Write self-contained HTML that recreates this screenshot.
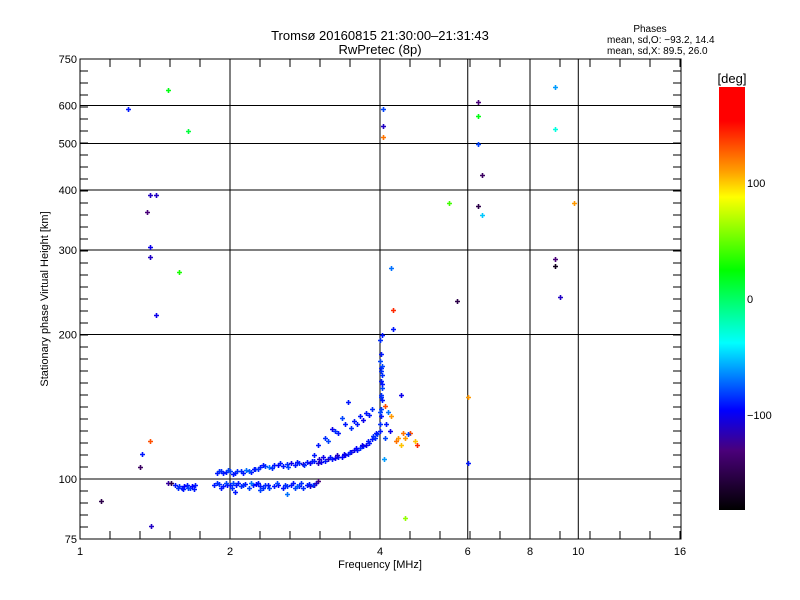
<!DOCTYPE html>
<html><head><meta charset="utf-8"><style>
body{margin:0;background:#fff}
svg{display:block;font-family:"Liberation Sans","DejaVu Sans",sans-serif}
</style></head><body>
<svg id="chart" width="800" height="600" viewBox="0 0 800 600">
<defs><linearGradient id="cb" x1="0" y1="1" x2="0" y2="0">
<stop offset="0" stop-color="#000"/><stop offset="0.14" stop-color="#4a007a"/><stop offset="0.236" stop-color="#0000ff"/><stop offset="0.395" stop-color="#00ffff"/><stop offset="0.567" stop-color="#00ff00"/><stop offset="0.74" stop-color="#ffff00"/><stop offset="0.80" stop-color="#ffa000"/><stop offset="0.92" stop-color="#ff0000"/><stop offset="1" stop-color="#ff0000"/>
</linearGradient></defs>
<rect width="800" height="600" fill="#fff"/>
<text x="380" y="40" font-size="13" text-anchor="middle">Tromsø 20160815 21:30:00–21:31:43</text>
<text x="380" y="54" font-size="13" text-anchor="middle">RwPretec (8p)</text>
<text x="650" y="32" font-size="10" text-anchor="middle">Phases</text>
<text x="607" y="43" font-size="10">mean, sd,O: −93.2, 14.4</text>
<text x="607" y="54" font-size="10">mean, sd,X:  89.5, 26.0</text>
<g id="grid"></g>
<g id="points"></g>
<rect x="80" y="59" width="601" height="480" fill="none" stroke="#000" stroke-width="1"/>
<g id="axes"></g>
<text x="380" y="568" font-size="11" text-anchor="middle">Frequency [MHz]</text>
<text transform="translate(48,299) rotate(-90)" font-size="11" text-anchor="middle">Stationary phase Virtual Height [km]</text>
<rect x="719" y="87" width="26" height="423" fill="url(#cb)"/>
<text x="732" y="83" font-size="13" text-anchor="middle">[deg]</text>
<g id="cbticks"></g>
</svg>
<script>
const xTicks=[1,2,4,6,8,10,16];
const yTicks=[75,100,200,300,400,500,600,750];
const yGrid=[100,200,300,400,500,600];
const xGrid=[2,4,6,8,10];
const cbLabels=[100,0,-100];
const freq=[1.1,1.25,1.5,1.65,1.38,1.42,1.36,1.38,1.38,1.58,1.42,1.38,1.33,1.32,1.39,4.05,4.05,4.05,4.2,4.25,4.25,4.4,4.5,5.5,5.7,6.0,6.0,6.3,6.3,6.3,6.4,6.3,6.4,9.0,9.0,9.8,9.0,9.0,9.2,
1.55,1.58,1.6,1.62,1.64,1.66,1.68,1.7,1.5,1.52,1.86,1.9,1.94,1.97,2.0,2.03,2.06,2.1,2.14,2.18,2.22,2.26,2.3,2.35,2.4,2.45,2.5,2.55,2.6,2.65,2.7,2.75,2.8,2.85,2.9,2.95,3.0,2.05,2.3,2.6,
1.57,1.61,1.65,1.69,1.88,1.92,1.96,2.02,2.08,2.12,2.2,2.28,2.33,2.38,2.48,2.58,2.68,2.72,2.78,2.88,2.93,2.98,
1.88,1.92,1.96,2.0,2.05,2.1,2.15,2.2,2.25,2.3,2.35,2.4,2.45,2.5,2.55,2.6,2.65,2.7,2.75,2.8,2.85,2.9,2.95,3.0,3.05,3.1,3.15,3.2,3.25,3.3,3.35,3.4,3.45,3.5,3.55,3.6,3.65,3.7,3.75,3.8,3.85,3.9,3.95,4.0,
1.9,1.94,1.98,2.03,2.07,2.12,2.18,2.23,2.28,2.33,2.43,2.52,2.62,2.72,2.82,2.92,3.02,3.08,3.18,3.28,3.38,3.48,3.58,3.68,3.78,3.88,3.93,
4.0,4.02,4.01,4.03,4.02,4.04,4.02,4.03,4.01,4.0,4.02,4.0,4.03,4.0,4.01,4.03,4.02,4.04,
3.0,3.1,3.2,3.3,3.4,3.5,3.6,3.7,3.75,3.85,3.35,3.65,2.95,3.15,3.45,3.25,3.55,3.8,
4.1,4.12,4.15,4.18,4.1,4.2,4.3,4.35,4.4,4.45,4.5,4.6,4.7,4.75,4.55,4.08];
const height=[90,590,645,530,390,390,360,305,290,270,220,120,113,106,80,590,545,515,275,225,205,150,83,375,235,148,108,610,570,500,430,370,355,655,535,375,288,278,240,
97,96.5,96,96.5,97,96,96.5,97,98,98,97,97.5,96.5,97,97,98,97,96.5,97.5,96,97,97.5,96.5,97,96,96.5,97,96,96.5,97,96,96.5,96,97,96.5,97,99,94,95,93,
96,95.5,96,95.5,98,96,98,96,98,97,98,98,96,97,98,97,98,96.5,98,97.5,97,98,
103,104,103.5,104,103,104,104.5,103.5,105,106,106.5,106,107,107,106.5,107.5,108,107,108,107.5,108.5,108,109,108,108.5,109,110,110,110.5,111,111,112,113,114,115,115,116,117,118,119,121,122,124,126,
104,103,104.5,102.5,104,103,104,105,105,107,105.5,108,106,108.5,107,109,110,111,111,112,113,114,116,118,120,123,125,
130,135,140,146,150,155,160,165,170,176,182,195,200,138,148,158,168,172,
118,122,127,125,130,128,130,133,137,140,134,135,112,120,145,126,132,136,
122,130,138,126,142,135,120,122,118,125,122,125,120,118,124,110];
const phase=[-150,-90,20,10,-110,-110,-130,-100,-110,30,-100,130,-90,-140,-110,-80,-110,120,-70,140,-90,-100,60,40,-150,110,-90,-130,20,-80,-140,-150,-50,-60,-30,110,-130,-170,-110,
-90,-85,-90,-95,-90,-85,-95,-90,-120,-150,-90,-85,-90,-95,-90,-80,-90,-85,-90,-80,-90,-95,-90,-85,-80,-90,-95,-90,-85,-90,-80,-90,-85,-90,-110,-120,-130,-90,-80,-70,
-85,-90,-80,-90,-85,-90,-80,-85,-90,-85,-70,-90,-85,-90,-80,-85,-90,-75,-85,-90,-85,-110,
-90,-85,-90,-80,-90,-85,-70,-90,-85,-90,-80,-70,-90,-95,-90,-85,-100,-90,-85,-110,-90,-100,-90,-110,-100,-90,-110,-90,-100,-90,-95,-100,-90,-110,-100,-90,-85,-90,-100,-90,-90,-85,-80,-90,
-85,-90,-80,-90,-85,-90,-75,-90,-85,-90,-85,-90,-80,-90,-85,-90,-110,-100,-90,-110,-100,-90,-95,-100,-90,-85,-90,
-85,-90,-80,-90,-85,-80,-90,-85,-90,-80,-90,-85,-90,-80,-85,-90,-85,-80,
-90,-85,-100,-90,-90,-85,-90,-100,-90,-85,-80,-90,-90,-80,-90,-85,-90,-90,
-80,-90,-70,-100,130,110,120,110,100,120,110,130,100,140,-80,-60];
const NS='http://www.w3.org/2000/svg';
const X0=80,X1=681,Y0=539,Y1=59;
function xs(f){return X0+150*Math.log2(f);}
function ys(h){return Y0-480*Math.log10(h/75);}
const stops=[[0,[0,0,0]],[0.14,[74,0,122]],[0.236,[0,0,255]],[0.395,[0,255,255]],[0.567,[0,255,0]],[0.74,[255,255,0]],[0.80,[255,160,0]],[0.92,[255,0,0]],[1,[255,0,0]]];
function col(p){let t=Math.max(0,Math.min(1,(p+180)/360));for(let i=1;i<stops.length;i++){if(t<=stops[i][0]){const a=stops[i-1],b=stops[i];const u=(t-a[0])/(b[0]-a[0]);const c=a[1].map((v,k)=>Math.round(v+(b[1][k]-v)*u));return 'rgb('+c.join(',')+')';}}return 'red';}
function mk(tag,at,parent){const e=document.createElementNS(NS,tag);for(const k in at)e.setAttribute(k,at[k]);parent.appendChild(e);return e;}
const grid=document.getElementById('grid');
xGrid.forEach(f=>{const l=mk('line',{x1:xs(f),x2:xs(f),y1:Y1,y2:Y0,stroke:'#000','stroke-width':1},grid);

});
yGrid.forEach(h=>{const l=mk('line',{x1:X0,x2:X1,y1:ys(h),y2:ys(h),stroke:'#000','stroke-width':1},grid);

});
const axes=document.getElementById('axes');
for(let x=X0+30;x<X1;x+=30){mk('line',{x1:x,x2:x,y1:Y0,y2:Y0-8,stroke:'#000'},axes);mk('line',{x1:x,x2:x,y1:Y1,y2:Y1+8,stroke:'#000'},axes);}
for(let y=Y0-12;y>Y1;y-=12){mk('line',{x1:X0,x2:X0+8,y1:y,y2:y,stroke:'#000'},axes);mk('line',{x1:X1,x2:X1-8,y1:y,y2:y,stroke:'#000'},axes);}
xTicks.forEach(f=>{const t=mk('text',{x:xs(f),y:555,'font-size':11,'text-anchor':'middle'},axes);t.textContent=f;

});
yTicks.forEach(h=>{const t=mk('text',{x:77,y:ys(h)+4,'font-size':11,'text-anchor':'end'},axes);t.textContent=h;

});
const cbt=document.getElementById('cbticks');
cbLabels.forEach(v=>{const y=299-v*1.16;const t=mk('text',{x:747,y:y+4,'font-size':11},cbt);t.textContent=v===-100?'−100':v;

});
const pts=document.getElementById('points');
for(let i=0;i<freq.length;i++){const x=Math.round(xs(freq[i])),y=Math.round(ys(height[i]));const c=col(phase[i]);
const p=mk('path',{d:'M'+(x-2)+' '+(y+0.5)+'h5M'+(x+0.5)+' '+(y-2)+'v5',stroke:c,'stroke-width':1.6,fill:'none'},pts);

}
</script>
</body></html>
